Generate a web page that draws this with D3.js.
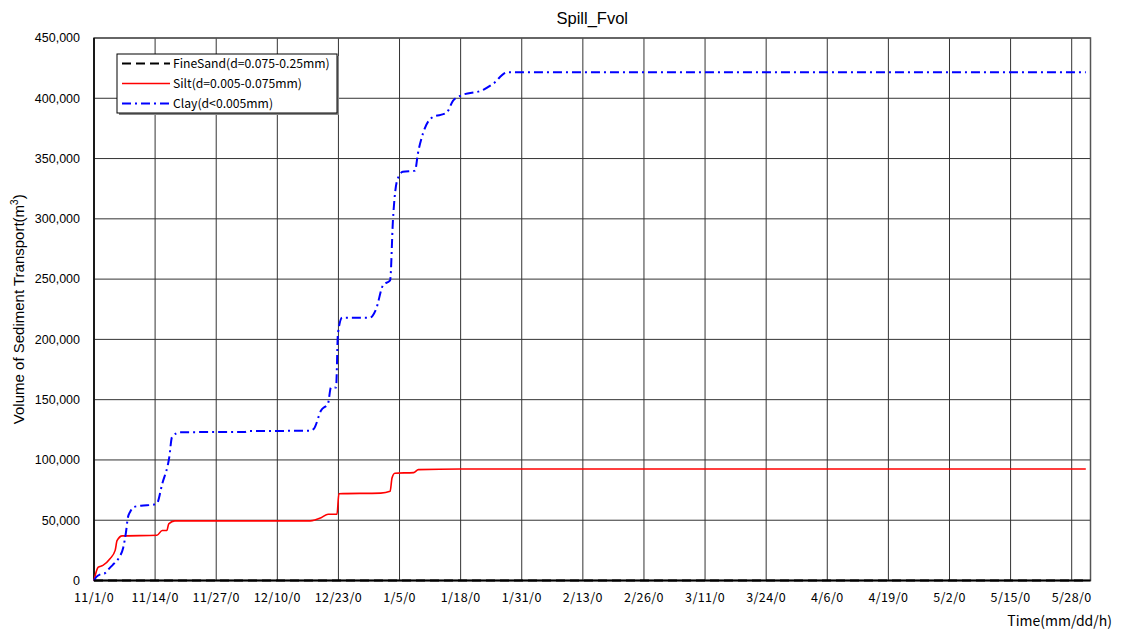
<!DOCTYPE html>
<html>
<head>
<meta charset="utf-8">
<script src="https://cdn.jsdelivr.net/npm/d3@7"></script>
<style>
  body { margin: 0; background: #fff; }
  svg { display: block; }
</style>
</head>
<body>
<div id="chart"></div>
<script>
// days since 11/1, cumulative volume (m3)
const clay = [
  [0, 0], [0.5, 3000], [1.7, 5500], [2.3, 6000], [3, 9000], [4, 13000], [5, 17000],
  [5.5, 20000], [6.2, 27000], [6.8, 40000], [7.2, 52000], [7.7, 57000], [8.5, 61000],
  [10, 62000], [12.8, 63000], [13.4, 64000], [14.5, 80000], [16, 102000], [16.6, 119000],
  [18.3, 123000], [32, 123200], [33, 124000], [46, 124200], [46.8, 126000], [48.3, 141000],
  [49.8, 147000], [50.4, 160000], [51.5, 160000], [51.9, 205000], [52.8, 218000],
  [58.7, 218000], [60, 225000], [61.5, 245000], [63, 249000], [63.6, 299000],
  [64.5, 332000], [65.7, 339000], [68.3, 340000], [68.9, 354000], [70, 371000],
  [71.9, 384000], [75, 388000], [76.4, 398000], [77.9, 402000], [82.8, 407000],
  [84.9, 412000], [87.9, 421500], [211, 421500]
];
const silt = [
  [0, 0], [0.9, 11000], [1.9, 12500], [3.4, 18000], [4.5, 25000], [4.9, 33000], [6, 37000],
  [13.4, 37500], [14.5, 41500], [15.5, 41500], [15.9, 47000], [17.2, 49500], [46, 49500],
  [48.3, 52000], [49.8, 55000], [51.7, 55000], [52.1, 72000], [61, 72500], [63, 74000],
  [63.4, 85000], [64, 89000], [68, 89500], [69, 92000], [78, 92500], [211, 92500]
];
const fineSand = [[0, 0], [211, 0]];

const tickLabels = ["11/1/0", "11/14/0", "11/27/0", "12/10/0", "12/23/0", "1/5/0", "1/18/0",
  "1/31/0", "2/13/0", "2/26/0", "3/11/0", "3/24/0", "4/6/0", "4/19/0", "5/2/0", "5/15/0", "5/28/0"];
const yTicks = [0, 50000, 100000, 150000, 200000, 250000, 300000, 350000, 400000, 450000];

const series = [
  { name: "FineSand(d=0.075-0.25mm)", data: fineSand, color: "#000", dash: "9,5", w: 2 },
  { name: "Silt(d=0.005-0.075mm)", data: silt, color: "#ff0000", dash: null, w: 1.6 },
  { name: "Clay(d<0.005mm)", data: clay, color: "#0000ff", dash: "9,4,2,4", w: 2 }
];

const width = 1122, height = 631;
const m = { left: 94, right: 1090.5, top: 38, bottom: 580.5 };

const svg = d3.select("#chart").append("svg")
  .attr("width", width).attr("height", height);

const x = d3.scaleLinear().domain([0, 212]).range([m.left, m.right]);
const y = d3.scaleLinear().domain([0, 450000]).range([m.bottom, m.top]);

// grid
svg.selectAll("line.vgrid")
  .data(tickLabels)
  .enter().append("line")
  .attr("x1", (d, i) => x(i * 13)).attr("x2", (d, i) => x(i * 13))
  .attr("y1", m.top).attr("y2", m.bottom)
  .attr("stroke", "#333").attr("stroke-width", 1);

svg.selectAll("line.hgrid")
  .data(yTicks)
  .enter().append("line")
  .attr("x1", m.left).attr("x2", m.right)
  .attr("y1", d => y(d)).attr("y2", d => y(d))
  .attr("stroke", "#333").attr("stroke-width", 1);

svg.append("rect")
  .attr("x", m.left).attr("y", m.top)
  .attr("width", m.right - m.left).attr("height", m.bottom - m.top)
  .attr("fill", "none").attr("stroke", "#555").attr("stroke-width", 1.5);

svg.append("line")
  .attr("x1", m.left).attr("x2", m.left).attr("y1", m.top).attr("y2", m.bottom)
  .attr("stroke", "#000").attr("stroke-width", 1.5);

// axes labels
svg.selectAll("text.ytick")
  .data(yTicks)
  .enter().append("text")
  .text(d => d3.format(",")(d))
  .attr("x", 80).attr("y", d => y(d))
  .attr("dy", "0.35em")
  .attr("text-anchor", "end")
  .attr("font-family", "Liberation Sans, Arial, sans-serif")
  .attr("font-size", 12.5);

svg.selectAll("text.xtick")
  .data(tickLabels)
  .enter().append("text")
  .text(d => d)
  .attr("x", (d, i) => x(i * 13)).attr("y", 602)
  .attr("text-anchor", "middle")
  .attr("font-family", "Noto Sans CJK JP, sans-serif")
  .attr("font-size", 12.5)
  .attr("letter-spacing", 0.4);

svg.append("text")
  .text("Time(mm/dd/h)")
  .attr("x", 1112).attr("y", 626)
  .attr("text-anchor", "end")
  .attr("font-family", "Noto Sans CJK JP, sans-serif")
  .attr("font-size", 14);

svg.append("text")
  .text("Spill_Fvol")
  .attr("x", (m.left + m.right) / 2).attr("y", 24)
  .attr("text-anchor", "middle")
  .attr("font-family", "Liberation Sans, Arial, sans-serif")
  .attr("font-size", 16.5);

const yl = svg.append("text")
  .attr("transform", "translate(24," + ((m.top + m.bottom) / 2) + ") rotate(-90)")
  .attr("text-anchor", "middle")
  .attr("font-family", "Liberation Sans, Arial, sans-serif")
  .attr("font-size", 15);
yl.append("tspan").text("Volume of Sediment Transport(m");
yl.append("tspan").text("3").attr("font-size", 10).attr("dy", -6);
yl.append("tspan").text(")").attr("dy", 6);

// lines
const line = d3.line()
  .x(d => x(d[0])).y(d => y(d[1]))
  .curve(d3.curveMonotoneX);

svg.selectAll("path.series")
  .data(series)
  .enter().append("path")
  .attr("d", s => line(s.data))
  .attr("fill", "none")
  .attr("stroke", s => s.color)
  .attr("stroke-width", s => s.w)
  .attr("stroke-dasharray", s => s.dash);

// bottom axis drawn over the zero line
svg.append("line")
  .attr("x1", m.left).attr("x2", m.right).attr("y1", m.bottom).attr("y2", m.bottom)
  .attr("stroke", "#000").attr("stroke-width", 2);

// legend
const lg = svg.append("g");
lg.append("rect")
  .attr("x", 119).attr("y", 56).attr("width", 220).attr("height", 59)
  .attr("fill", "#888");
lg.append("rect")
  .attr("x", 117).attr("y", 54).attr("width", 220).attr("height", 59)
  .attr("fill", "#fff").attr("stroke", "#000").attr("stroke-width", 1);

series.forEach((s, i) => {
  const ly = 63.5 + i * 20;
  lg.append("line")
    .attr("x1", 122).attr("x2", 170).attr("y1", ly).attr("y2", ly)
    .attr("stroke", s.color).attr("stroke-width", s.w)
    .attr("stroke-dasharray", s.dash);
  lg.append("text")
    .text(s.name)
    .attr("x", 173).attr("y", ly)
    .attr("dy", "0.35em")
    .attr("font-family", "Noto Sans CJK JP, sans-serif")
    .attr("font-size", 12.2);
});
</script>
</body>
</html>
